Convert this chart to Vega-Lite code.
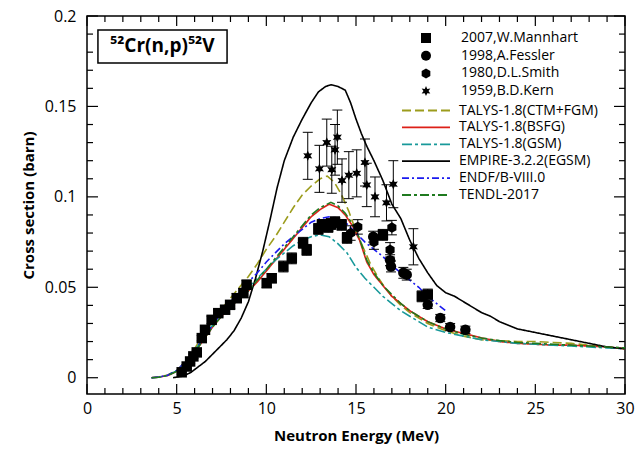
{
"$schema": "https://vega.github.io/schema/vega-lite/v6.json",
"width": 538, "height": 378,
"autosize": {"type": "none"},
"padding": {"left": 87, "top": 16, "right": 19, "bottom": 59},
"background": "white",
"config": {
  "view": {"stroke": "black", "strokeWidth": 1.5},
  "font": "Open Sans",
  "axis": {"domain": false, "ticks": false, "labelFont": "Open Sans", "labelFontSize": 16, "labelColor": "black", "titleFont": "Open Sans", "titleFontSize": 15, "titleFontWeight": "bold", "titleColor": "black", "grid": false, "labelFlush": false, "labelOverlap": false},
  "legend": {"labelFont": "Open Sans", "labelFontSize": 14, "labelColor": "black", "padding": 0}
},
"datasets": {
  "xmaj": [{"v":0},{"v":5},{"v":10},{"v":15},{"v":20},{"v":25},{"v":30}],
  "xmin": [{"v":1},{"v":2},{"v":3},{"v":4},{"v":6},{"v":7},{"v":8},{"v":9},{"v":11},{"v":12},{"v":13},{"v":14},{"v":16},{"v":17},{"v":18},{"v":19},{"v":21},{"v":22},{"v":23},{"v":24},{"v":26},{"v":27},{"v":28},{"v":29}],
  "ymaj": [{"v":0},{"v":0.05},{"v":0.1},{"v":0.15},{"v":0.2}],
  "ymin": [{"v":0.01},{"v":0.02},{"v":0.03},{"v":0.04},{"v":0.06},{"v":0.07},{"v":0.08},{"v":0.09},{"v":0.11},{"v":0.12},{"v":0.13},{"v":0.14},{"v":0.16},{"v":0.17},{"v":0.18},{"v":0.19}],
  "exp": [
    {"src":"2007,W.Mannhart","E":5.28,"y":0.003,"lo":0.002,"hi":0.004},
    {"src":"2007,W.Mannhart","E":5.56,"y":0.0062,"lo":0.0052,"hi":0.0072},
    {"src":"2007,W.Mannhart","E":5.75,"y":0.009,"lo":0.008,"hi":0.010},
    {"src":"2007,W.Mannhart","E":5.93,"y":0.0118,"lo":0.0106,"hi":0.013},
    {"src":"2007,W.Mannhart","E":6.12,"y":0.014,"lo":0.0128,"hi":0.0152},
    {"src":"2007,W.Mannhart","E":6.4,"y":0.0219,"lo":0.0204,"hi":0.0234},
    {"src":"2007,W.Mannhart","E":6.58,"y":0.0265,"lo":0.025,"hi":0.028},
    {"src":"2007,W.Mannhart","E":6.95,"y":0.032,"lo":0.030,"hi":0.034},
    {"src":"2007,W.Mannhart","E":7.32,"y":0.0357,"lo":0.0337,"hi":0.0377},
    {"src":"2007,W.Mannhart","E":7.7,"y":0.0376,"lo":0.0356,"hi":0.0396},
    {"src":"2007,W.Mannhart","E":7.98,"y":0.0403,"lo":0.0383,"hi":0.0423},
    {"src":"2007,W.Mannhart","E":8.35,"y":0.044,"lo":0.0415,"hi":0.0465},
    {"src":"2007,W.Mannhart","E":8.72,"y":0.0468,"lo":0.0443,"hi":0.0493},
    {"src":"2007,W.Mannhart","E":8.9,"y":0.0514,"lo":0.0489,"hi":0.0539},
    {"src":"2007,W.Mannhart","E":10.02,"y":0.0523,"lo":0.0498,"hi":0.0548},
    {"src":"2007,W.Mannhart","E":10.3,"y":0.055,"lo":0.0525,"hi":0.0575},
    {"src":"2007,W.Mannhart","E":10.95,"y":0.0615,"lo":0.0585,"hi":0.0645},
    {"src":"2007,W.Mannhart","E":11.42,"y":0.066,"lo":0.063,"hi":0.069},
    {"src":"2007,W.Mannhart","E":12.05,"y":0.0746,"lo":0.0716,"hi":0.0776},
    {"src":"2007,W.Mannhart","E":12.25,"y":0.0707,"lo":0.0677,"hi":0.0737},
    {"src":"2007,W.Mannhart","E":12.9,"y":0.0823,"lo":0.0793,"hi":0.0853},
    {"src":"2007,W.Mannhart","E":13.1,"y":0.0845,"lo":0.0815,"hi":0.0875},
    {"src":"2007,W.Mannhart","E":13.45,"y":0.0834,"lo":0.0804,"hi":0.0864},
    {"src":"2007,W.Mannhart","E":13.6,"y":0.085,"lo":0.082,"hi":0.088},
    {"src":"2007,W.Mannhart","E":13.83,"y":0.086,"lo":0.083,"hi":0.089},
    {"src":"2007,W.Mannhart","E":14.2,"y":0.0845,"lo":0.0815,"hi":0.0875},
    {"src":"2007,W.Mannhart","E":14.5,"y":0.0773,"lo":0.0743,"hi":0.0803},
    {"src":"2007,W.Mannhart","E":16.5,"y":0.079,"lo":0.076,"hi":0.082},
    {"src":"2007,W.Mannhart","E":18.67,"y":0.045,"lo":0.042,"hi":0.048},
    {"src":"2007,W.Mannhart","E":19.0,"y":0.046,"lo":0.043,"hi":0.049},
    {"src":"1998,A.Fessler","E":15.96,"y":0.078,"lo":0.075,"hi":0.081},
    {"src":"1998,A.Fessler","E":16.9,"y":0.065,"lo":0.062,"hi":0.068},
    {"src":"1998,A.Fessler","E":16.95,"y":0.0615,"lo":0.0585,"hi":0.0645},
    {"src":"1998,A.Fessler","E":17.64,"y":0.058,"lo":0.055,"hi":0.061},
    {"src":"1998,A.Fessler","E":17.83,"y":0.057,"lo":0.054,"hi":0.060},
    {"src":"1998,A.Fessler","E":19.0,"y":0.0403,"lo":0.0383,"hi":0.0423},
    {"src":"1998,A.Fessler","E":19.7,"y":0.033,"lo":0.031,"hi":0.035},
    {"src":"1998,A.Fessler","E":20.25,"y":0.028,"lo":0.026,"hi":0.030},
    {"src":"1998,A.Fessler","E":21.1,"y":0.0265,"lo":0.0245,"hi":0.0285},
    {"src":"1980,D.L.Smith","E":14.7,"y":0.08,"lo":0.076,"hi":0.084},
    {"src":"1980,D.L.Smith","E":15.1,"y":0.0834,"lo":0.0794,"hi":0.0874},
    {"src":"1980,D.L.Smith","E":16.0,"y":0.075,"lo":0.071,"hi":0.079},
    {"src":"1980,D.L.Smith","E":16.9,"y":0.0707,"lo":0.0667,"hi":0.0747},
    {"src":"1980,D.L.Smith","E":17.0,"y":0.083,"lo":0.079,"hi":0.087},
    {"src":"1959,B.D.Kern","E":12.31,"y":0.1227,"lo":0.1097,"hi":0.1357},
    {"src":"1959,B.D.Kern","E":12.96,"y":0.1155,"lo":0.1025,"hi":0.1285},
    {"src":"1959,B.D.Kern","E":13.37,"y":0.13,"lo":0.117,"hi":0.143},
    {"src":"1959,B.D.Kern","E":13.65,"y":0.115,"lo":0.102,"hi":0.128},
    {"src":"1959,B.D.Kern","E":13.83,"y":0.126,"lo":0.112,"hi":0.140},
    {"src":"1959,B.D.Kern","E":13.96,"y":0.133,"lo":0.118,"hi":0.148},
    {"src":"1959,B.D.Kern","E":14.22,"y":0.109,"lo":0.097,"hi":0.121},
    {"src":"1959,B.D.Kern","E":14.6,"y":0.112,"lo":0.099,"hi":0.125},
    {"src":"1959,B.D.Kern","E":15.04,"y":0.113,"lo":0.100,"hi":0.126},
    {"src":"1959,B.D.Kern","E":15.5,"y":0.119,"lo":0.106,"hi":0.132},
    {"src":"1959,B.D.Kern","E":15.6,"y":0.1066,"lo":0.0946,"hi":0.1186},
    {"src":"1959,B.D.Kern","E":16.06,"y":0.1,"lo":0.089,"hi":0.111},
    {"src":"1959,B.D.Kern","E":16.7,"y":0.0967,"lo":0.0867,"hi":0.1067},
    {"src":"1959,B.D.Kern","E":17.08,"y":0.107,"lo":0.094,"hi":0.120},
    {"src":"1959,B.D.Kern","E":18.2,"y":0.0724,"lo":0.0624,"hi":0.0824}
  ],
  "calc": [
    {"model":"TALYS-1.8(CTM+FGM)","E":3.6,"y":0},{"model":"TALYS-1.8(CTM+FGM)","E":4.0,"y":0.0004},{"model":"TALYS-1.8(CTM+FGM)","E":4.5,"y":0.0015},{"model":"TALYS-1.8(CTM+FGM)","E":5.0,"y":0.004},{"model":"TALYS-1.8(CTM+FGM)","E":5.5,"y":0.009},{"model":"TALYS-1.8(CTM+FGM)","E":6.0,"y":0.016},{"model":"TALYS-1.8(CTM+FGM)","E":6.5,"y":0.024},{"model":"TALYS-1.8(CTM+FGM)","E":7.0,"y":0.031},{"model":"TALYS-1.8(CTM+FGM)","E":7.5,"y":0.038},{"model":"TALYS-1.8(CTM+FGM)","E":8.0,"y":0.044},{"model":"TALYS-1.8(CTM+FGM)","E":8.5,"y":0.05},{"model":"TALYS-1.8(CTM+FGM)","E":9.0,"y":0.056},{"model":"TALYS-1.8(CTM+FGM)","E":9.5,"y":0.063},{"model":"TALYS-1.8(CTM+FGM)","E":10.0,"y":0.071},{"model":"TALYS-1.8(CTM+FGM)","E":10.5,"y":0.078},{"model":"TALYS-1.8(CTM+FGM)","E":11.0,"y":0.086},{"model":"TALYS-1.8(CTM+FGM)","E":11.5,"y":0.094},{"model":"TALYS-1.8(CTM+FGM)","E":12.0,"y":0.101},{"model":"TALYS-1.8(CTM+FGM)","E":12.5,"y":0.106},{"model":"TALYS-1.8(CTM+FGM)","E":13.0,"y":0.11},{"model":"TALYS-1.8(CTM+FGM)","E":13.4,"y":0.1115},{"model":"TALYS-1.8(CTM+FGM)","E":13.8,"y":0.108},{"model":"TALYS-1.8(CTM+FGM)","E":14.2,"y":0.101},{"model":"TALYS-1.8(CTM+FGM)","E":14.6,"y":0.092},{"model":"TALYS-1.8(CTM+FGM)","E":15.0,"y":0.081},{"model":"TALYS-1.8(CTM+FGM)","E":15.4,"y":0.072},{"model":"TALYS-1.8(CTM+FGM)","E":15.8,"y":0.063},{"model":"TALYS-1.8(CTM+FGM)","E":16.2,"y":0.056},{"model":"TALYS-1.8(CTM+FGM)","E":16.6,"y":0.05},{"model":"TALYS-1.8(CTM+FGM)","E":17.0,"y":0.045},{"model":"TALYS-1.8(CTM+FGM)","E":17.5,"y":0.04},{"model":"TALYS-1.8(CTM+FGM)","E":18.0,"y":0.036},{"model":"TALYS-1.8(CTM+FGM)","E":18.5,"y":0.033},{"model":"TALYS-1.8(CTM+FGM)","E":19.0,"y":0.03},{"model":"TALYS-1.8(CTM+FGM)","E":19.5,"y":0.028},{"model":"TALYS-1.8(CTM+FGM)","E":20.0,"y":0.026},{"model":"TALYS-1.8(CTM+FGM)","E":21.0,"y":0.023},{"model":"TALYS-1.8(CTM+FGM)","E":22.0,"y":0.021},{"model":"TALYS-1.8(CTM+FGM)","E":23.0,"y":0.0205},{"model":"TALYS-1.8(CTM+FGM)","E":24.0,"y":0.02},{"model":"TALYS-1.8(CTM+FGM)","E":25.0,"y":0.02},{"model":"TALYS-1.8(CTM+FGM)","E":26.0,"y":0.0195},{"model":"TALYS-1.8(CTM+FGM)","E":27.0,"y":0.019},{"model":"TALYS-1.8(CTM+FGM)","E":28.0,"y":0.018},{"model":"TALYS-1.8(CTM+FGM)","E":29.0,"y":0.017},{"model":"TALYS-1.8(CTM+FGM)","E":30.0,"y":0.016},
    {"model":"TALYS-1.8(BSFG)","E":3.6,"y":0},{"model":"TALYS-1.8(BSFG)","E":4.0,"y":0.0003},{"model":"TALYS-1.8(BSFG)","E":4.5,"y":0.0012},{"model":"TALYS-1.8(BSFG)","E":5.0,"y":0.0035},{"model":"TALYS-1.8(BSFG)","E":5.5,"y":0.008},{"model":"TALYS-1.8(BSFG)","E":6.0,"y":0.014},{"model":"TALYS-1.8(BSFG)","E":6.5,"y":0.021},{"model":"TALYS-1.8(BSFG)","E":7.0,"y":0.028},{"model":"TALYS-1.8(BSFG)","E":7.5,"y":0.034},{"model":"TALYS-1.8(BSFG)","E":8.0,"y":0.039},{"model":"TALYS-1.8(BSFG)","E":8.5,"y":0.044},{"model":"TALYS-1.8(BSFG)","E":9.0,"y":0.048},{"model":"TALYS-1.8(BSFG)","E":9.5,"y":0.053},{"model":"TALYS-1.8(BSFG)","E":10.0,"y":0.059},{"model":"TALYS-1.8(BSFG)","E":10.5,"y":0.065},{"model":"TALYS-1.8(BSFG)","E":11.0,"y":0.071},{"model":"TALYS-1.8(BSFG)","E":11.5,"y":0.077},{"model":"TALYS-1.8(BSFG)","E":12.0,"y":0.083},{"model":"TALYS-1.8(BSFG)","E":12.5,"y":0.089},{"model":"TALYS-1.8(BSFG)","E":13.0,"y":0.093},{"model":"TALYS-1.8(BSFG)","E":13.5,"y":0.096},{"model":"TALYS-1.8(BSFG)","E":14.0,"y":0.094},{"model":"TALYS-1.8(BSFG)","E":14.4,"y":0.09},{"model":"TALYS-1.8(BSFG)","E":14.8,"y":0.084},{"model":"TALYS-1.8(BSFG)","E":15.2,"y":0.076},{"model":"TALYS-1.8(BSFG)","E":15.6,"y":0.064},{"model":"TALYS-1.8(BSFG)","E":16.0,"y":0.057},{"model":"TALYS-1.8(BSFG)","E":16.5,"y":0.051},{"model":"TALYS-1.8(BSFG)","E":17.0,"y":0.045},{"model":"TALYS-1.8(BSFG)","E":17.5,"y":0.041},{"model":"TALYS-1.8(BSFG)","E":18.0,"y":0.037},{"model":"TALYS-1.8(BSFG)","E":18.5,"y":0.034},{"model":"TALYS-1.8(BSFG)","E":19.0,"y":0.031},{"model":"TALYS-1.8(BSFG)","E":19.5,"y":0.029},{"model":"TALYS-1.8(BSFG)","E":20.0,"y":0.027},{"model":"TALYS-1.8(BSFG)","E":21.0,"y":0.0245},{"model":"TALYS-1.8(BSFG)","E":22.0,"y":0.022},{"model":"TALYS-1.8(BSFG)","E":23.0,"y":0.02},{"model":"TALYS-1.8(BSFG)","E":24.0,"y":0.019},{"model":"TALYS-1.8(BSFG)","E":25.0,"y":0.0185},{"model":"TALYS-1.8(BSFG)","E":26.0,"y":0.018},{"model":"TALYS-1.8(BSFG)","E":27.0,"y":0.018},{"model":"TALYS-1.8(BSFG)","E":28.0,"y":0.0175},{"model":"TALYS-1.8(BSFG)","E":29.0,"y":0.017},{"model":"TALYS-1.8(BSFG)","E":30.0,"y":0.016},
    {"model":"TALYS-1.8(GSM)","E":3.6,"y":0},{"model":"TALYS-1.8(GSM)","E":4.0,"y":0.0003},{"model":"TALYS-1.8(GSM)","E":4.5,"y":0.0013},{"model":"TALYS-1.8(GSM)","E":5.0,"y":0.0038},{"model":"TALYS-1.8(GSM)","E":5.5,"y":0.0085},{"model":"TALYS-1.8(GSM)","E":6.0,"y":0.015},{"model":"TALYS-1.8(GSM)","E":6.5,"y":0.022},{"model":"TALYS-1.8(GSM)","E":7.0,"y":0.029},{"model":"TALYS-1.8(GSM)","E":7.5,"y":0.035},{"model":"TALYS-1.8(GSM)","E":8.0,"y":0.04},{"model":"TALYS-1.8(GSM)","E":8.5,"y":0.045},{"model":"TALYS-1.8(GSM)","E":9.0,"y":0.05},{"model":"TALYS-1.8(GSM)","E":9.5,"y":0.055},{"model":"TALYS-1.8(GSM)","E":10.0,"y":0.06},{"model":"TALYS-1.8(GSM)","E":10.5,"y":0.065},{"model":"TALYS-1.8(GSM)","E":11.0,"y":0.069},{"model":"TALYS-1.8(GSM)","E":11.5,"y":0.073},{"model":"TALYS-1.8(GSM)","E":12.0,"y":0.076},{"model":"TALYS-1.8(GSM)","E":12.5,"y":0.078},{"model":"TALYS-1.8(GSM)","E":13.0,"y":0.079},{"model":"TALYS-1.8(GSM)","E":13.5,"y":0.078},{"model":"TALYS-1.8(GSM)","E":14.0,"y":0.074},{"model":"TALYS-1.8(GSM)","E":14.5,"y":0.069},{"model":"TALYS-1.8(GSM)","E":15.0,"y":0.061},{"model":"TALYS-1.8(GSM)","E":15.5,"y":0.055},{"model":"TALYS-1.8(GSM)","E":16.0,"y":0.05},{"model":"TALYS-1.8(GSM)","E":16.5,"y":0.045},{"model":"TALYS-1.8(GSM)","E":17.0,"y":0.041},{"model":"TALYS-1.8(GSM)","E":17.5,"y":0.037},{"model":"TALYS-1.8(GSM)","E":18.0,"y":0.034},{"model":"TALYS-1.8(GSM)","E":18.5,"y":0.031},{"model":"TALYS-1.8(GSM)","E":19.0,"y":0.028},{"model":"TALYS-1.8(GSM)","E":20.0,"y":0.025},{"model":"TALYS-1.8(GSM)","E":21.0,"y":0.023},{"model":"TALYS-1.8(GSM)","E":22.0,"y":0.021},{"model":"TALYS-1.8(GSM)","E":23.0,"y":0.02},{"model":"TALYS-1.8(GSM)","E":24.0,"y":0.019},{"model":"TALYS-1.8(GSM)","E":25.0,"y":0.0185},{"model":"TALYS-1.8(GSM)","E":26.0,"y":0.018},{"model":"TALYS-1.8(GSM)","E":27.0,"y":0.0175},{"model":"TALYS-1.8(GSM)","E":28.0,"y":0.017},{"model":"TALYS-1.8(GSM)","E":29.0,"y":0.0165},{"model":"TALYS-1.8(GSM)","E":30.0,"y":0.016},
    {"model":"EMPIRE-3.2.2(EGSM)","E":4.8,"y":0},{"model":"EMPIRE-3.2.2(EGSM)","E":5.4,"y":0.001},{"model":"EMPIRE-3.2.2(EGSM)","E":5.8,"y":0.003},{"model":"EMPIRE-3.2.2(EGSM)","E":6.2,"y":0.006},{"model":"EMPIRE-3.2.2(EGSM)","E":6.6,"y":0.009},{"model":"EMPIRE-3.2.2(EGSM)","E":7.0,"y":0.013},{"model":"EMPIRE-3.2.2(EGSM)","E":7.4,"y":0.017},{"model":"EMPIRE-3.2.2(EGSM)","E":7.8,"y":0.021},{"model":"EMPIRE-3.2.2(EGSM)","E":8.2,"y":0.026},{"model":"EMPIRE-3.2.2(EGSM)","E":8.6,"y":0.033},{"model":"EMPIRE-3.2.2(EGSM)","E":9.0,"y":0.042},{"model":"EMPIRE-3.2.2(EGSM)","E":9.4,"y":0.055},{"model":"EMPIRE-3.2.2(EGSM)","E":9.8,"y":0.07},{"model":"EMPIRE-3.2.2(EGSM)","E":10.2,"y":0.087},{"model":"EMPIRE-3.2.2(EGSM)","E":10.6,"y":0.105},{"model":"EMPIRE-3.2.2(EGSM)","E":11.0,"y":0.12},{"model":"EMPIRE-3.2.2(EGSM)","E":11.5,"y":0.133},{"model":"EMPIRE-3.2.2(EGSM)","E":12.0,"y":0.143},{"model":"EMPIRE-3.2.2(EGSM)","E":12.5,"y":0.152},{"model":"EMPIRE-3.2.2(EGSM)","E":12.9,"y":0.158},{"model":"EMPIRE-3.2.2(EGSM)","E":13.3,"y":0.161},{"model":"EMPIRE-3.2.2(EGSM)","E":13.6,"y":0.162},{"model":"EMPIRE-3.2.2(EGSM)","E":14.0,"y":0.161},{"model":"EMPIRE-3.2.2(EGSM)","E":14.4,"y":0.159},{"model":"EMPIRE-3.2.2(EGSM)","E":14.7,"y":0.152},{"model":"EMPIRE-3.2.2(EGSM)","E":15.0,"y":0.143},{"model":"EMPIRE-3.2.2(EGSM)","E":15.3,"y":0.135},{"model":"EMPIRE-3.2.2(EGSM)","E":15.6,"y":0.128},{"model":"EMPIRE-3.2.2(EGSM)","E":16.0,"y":0.12},{"model":"EMPIRE-3.2.2(EGSM)","E":16.5,"y":0.109},{"model":"EMPIRE-3.2.2(EGSM)","E":17.0,"y":0.096},{"model":"EMPIRE-3.2.2(EGSM)","E":17.5,"y":0.088},{"model":"EMPIRE-3.2.2(EGSM)","E":18.0,"y":0.076},{"model":"EMPIRE-3.2.2(EGSM)","E":18.5,"y":0.066},{"model":"EMPIRE-3.2.2(EGSM)","E":19.0,"y":0.058},{"model":"EMPIRE-3.2.2(EGSM)","E":19.5,"y":0.051},{"model":"EMPIRE-3.2.2(EGSM)","E":20.0,"y":0.047},{"model":"EMPIRE-3.2.2(EGSM)","E":20.5,"y":0.045},{"model":"EMPIRE-3.2.2(EGSM)","E":21.0,"y":0.042},{"model":"EMPIRE-3.2.2(EGSM)","E":21.5,"y":0.039},{"model":"EMPIRE-3.2.2(EGSM)","E":22.0,"y":0.036},{"model":"EMPIRE-3.2.2(EGSM)","E":22.5,"y":0.034},{"model":"EMPIRE-3.2.2(EGSM)","E":23.0,"y":0.031},{"model":"EMPIRE-3.2.2(EGSM)","E":23.5,"y":0.029},{"model":"EMPIRE-3.2.2(EGSM)","E":24.0,"y":0.027},{"model":"EMPIRE-3.2.2(EGSM)","E":25.0,"y":0.025},{"model":"EMPIRE-3.2.2(EGSM)","E":26.0,"y":0.023},{"model":"EMPIRE-3.2.2(EGSM)","E":27.0,"y":0.021},{"model":"EMPIRE-3.2.2(EGSM)","E":28.0,"y":0.019},{"model":"EMPIRE-3.2.2(EGSM)","E":29.0,"y":0.017},{"model":"EMPIRE-3.2.2(EGSM)","E":30.0,"y":0.016},
    {"model":"ENDF/B-VIII.0","E":3.6,"y":0},{"model":"ENDF/B-VIII.0","E":4.0,"y":0.0004},{"model":"ENDF/B-VIII.0","E":4.5,"y":0.0014},{"model":"ENDF/B-VIII.0","E":5.0,"y":0.004},{"model":"ENDF/B-VIII.0","E":5.5,"y":0.009},{"model":"ENDF/B-VIII.0","E":6.0,"y":0.015},{"model":"ENDF/B-VIII.0","E":6.5,"y":0.022},{"model":"ENDF/B-VIII.0","E":7.0,"y":0.029},{"model":"ENDF/B-VIII.0","E":7.5,"y":0.036},{"model":"ENDF/B-VIII.0","E":8.0,"y":0.042},{"model":"ENDF/B-VIII.0","E":8.5,"y":0.047},{"model":"ENDF/B-VIII.0","E":9.0,"y":0.053},{"model":"ENDF/B-VIII.0","E":9.5,"y":0.058},{"model":"ENDF/B-VIII.0","E":10.0,"y":0.064},{"model":"ENDF/B-VIII.0","E":10.5,"y":0.069},{"model":"ENDF/B-VIII.0","E":11.0,"y":0.074},{"model":"ENDF/B-VIII.0","E":11.5,"y":0.078},{"model":"ENDF/B-VIII.0","E":12.0,"y":0.082},{"model":"ENDF/B-VIII.0","E":12.5,"y":0.086},{"model":"ENDF/B-VIII.0","E":13.0,"y":0.088},{"model":"ENDF/B-VIII.0","E":13.5,"y":0.089},{"model":"ENDF/B-VIII.0","E":14.0,"y":0.088},{"model":"ENDF/B-VIII.0","E":14.5,"y":0.085},{"model":"ENDF/B-VIII.0","E":15.0,"y":0.08},{"model":"ENDF/B-VIII.0","E":15.5,"y":0.075},{"model":"ENDF/B-VIII.0","E":16.0,"y":0.071},{"model":"ENDF/B-VIII.0","E":16.5,"y":0.067},{"model":"ENDF/B-VIII.0","E":17.0,"y":0.062},{"model":"ENDF/B-VIII.0","E":17.5,"y":0.058},{"model":"ENDF/B-VIII.0","E":18.0,"y":0.054},{"model":"ENDF/B-VIII.0","E":18.5,"y":0.05},{"model":"ENDF/B-VIII.0","E":19.0,"y":0.045},{"model":"ENDF/B-VIII.0","E":19.5,"y":0.041},{"model":"ENDF/B-VIII.0","E":20.0,"y":0.037},
    {"model":"TENDL-2017","E":3.6,"y":0},{"model":"TENDL-2017","E":4.0,"y":0.0003},{"model":"TENDL-2017","E":4.5,"y":0.0012},{"model":"TENDL-2017","E":5.0,"y":0.0035},{"model":"TENDL-2017","E":5.5,"y":0.008},{"model":"TENDL-2017","E":6.0,"y":0.014},{"model":"TENDL-2017","E":6.5,"y":0.021},{"model":"TENDL-2017","E":7.0,"y":0.028},{"model":"TENDL-2017","E":7.5,"y":0.034},{"model":"TENDL-2017","E":8.0,"y":0.039},{"model":"TENDL-2017","E":8.5,"y":0.044},{"model":"TENDL-2017","E":9.0,"y":0.048},{"model":"TENDL-2017","E":9.5,"y":0.054},{"model":"TENDL-2017","E":10.0,"y":0.06},{"model":"TENDL-2017","E":10.5,"y":0.066},{"model":"TENDL-2017","E":11.0,"y":0.072},{"model":"TENDL-2017","E":11.5,"y":0.078},{"model":"TENDL-2017","E":12.0,"y":0.084},{"model":"TENDL-2017","E":12.5,"y":0.09},{"model":"TENDL-2017","E":13.0,"y":0.094},{"model":"TENDL-2017","E":13.6,"y":0.097},{"model":"TENDL-2017","E":14.0,"y":0.095},{"model":"TENDL-2017","E":14.4,"y":0.091},{"model":"TENDL-2017","E":14.8,"y":0.085},{"model":"TENDL-2017","E":15.2,"y":0.077},{"model":"TENDL-2017","E":15.6,"y":0.065},{"model":"TENDL-2017","E":16.0,"y":0.058},{"model":"TENDL-2017","E":16.5,"y":0.051},{"model":"TENDL-2017","E":17.0,"y":0.046},{"model":"TENDL-2017","E":17.5,"y":0.041},{"model":"TENDL-2017","E":18.0,"y":0.037},{"model":"TENDL-2017","E":18.5,"y":0.034},{"model":"TENDL-2017","E":19.0,"y":0.031},{"model":"TENDL-2017","E":19.5,"y":0.029},{"model":"TENDL-2017","E":20.0,"y":0.027},{"model":"TENDL-2017","E":21.0,"y":0.024},{"model":"TENDL-2017","E":22.0,"y":0.022},{"model":"TENDL-2017","E":23.0,"y":0.0205},{"model":"TENDL-2017","E":24.0,"y":0.0195},{"model":"TENDL-2017","E":25.0,"y":0.019},{"model":"TENDL-2017","E":26.0,"y":0.0185},{"model":"TENDL-2017","E":27.0,"y":0.018},{"model":"TENDL-2017","E":28.0,"y":0.0175},{"model":"TENDL-2017","E":29.0,"y":0.017},{"model":"TENDL-2017","E":30.0,"y":0.0165}
  ]
},
"layer": [
    {"data": {"name": "calc"},
     "mark": {"type": "line", "strokeWidth": 1.6},
     "encoding": {
       "x": {"field": "E", "type": "quantitative", "title": "Neutron Energy (MeV)", "scale": {"domain": [0, 30], "nice": false, "zero": false},
             "axis": {"orient": "bottom", "values": [0,5,10,15,20,25,30], "ticks": false, "domain": false, "labelOverlap": false, "labelPadding": 6, "titlePadding": 12}},
       "y": {"field": "y", "type": "quantitative", "title": "Cross section (barn)", "scale": {"domain": [-0.009, 0.2], "nice": false, "zero": false},
             "axis": {"orient": "left", "values": [0,0.05,0.1,0.15,0.2], "ticks": false, "domain": false, "labelOverlap": false,
                      "labelExpr": "format(datum.value, '~g')", "labelPadding": 11, "titlePadding": 8}},
       "color": {"field": "model", "type": "nominal",
                 "scale": {"domain": ["TALYS-1.8(CTM+FGM)","TALYS-1.8(BSFG)","TALYS-1.8(GSM)","EMPIRE-3.2.2(EGSM)","ENDF/B-VIII.0","TENDL-2017"],
                           "range": ["#9c9c1c","#dd2018","#18999a","#000000","#1a1aee","#1f7a1f"]},
                 "legend": {"orient": "none", "legendX": 330, "legendY": 85.5, "title": null, "symbolType": "M-3,0H3", "symbolSize": 256, "symbolStrokeWidth": 1.8, "labelOffset": 24, "rowPadding": 0.9}},
       "strokeDash": {"field": "model", "type": "nominal",
                 "scale": {"domain": ["TALYS-1.8(CTM+FGM)","TALYS-1.8(BSFG)","TALYS-1.8(GSM)","EMPIRE-3.2.2(EGSM)","ENDF/B-VIII.0","TENDL-2017"],
                           "range": [[9,4],[1,0],[10,3,3,3],[1,0],[7,3,2,3],[9,3,3,3]]},
                 "legend": {"orient": "none", "legendX": 330, "legendY": 85.5, "title": null, "symbolType": "M-3,0H3", "symbolSize": 256, "symbolStrokeWidth": 1.8, "labelOffset": 24, "rowPadding": 0.9}}
     }},
    {"data": {"name": "xmaj"},
     "mark": {"type": "rule", "color": "black", "strokeWidth": 1.2},
     "encoding": {
       "x": {"field": "v", "type": "quantitative", "axis": null, "scale": {"domain": [0, 30], "nice": false, "zero": false}},
       "y": {"datum": -0.009, "type": "quantitative", "axis": null, "scale": {"domain": [-0.009, 0.2], "nice": false, "zero": false}},
       "y2": {"datum": -0.00347}
     }},
    {"data": {"name": "xmin"},
     "mark": {"type": "rule", "color": "black", "strokeWidth": 1.2},
     "encoding": {
       "x": {"field": "v", "type": "quantitative", "axis": null, "scale": {"domain": [0, 30], "nice": false, "zero": false}},
       "y": {"datum": -0.009, "type": "quantitative", "axis": null, "scale": {"domain": [-0.009, 0.2], "nice": false, "zero": false}},
       "y2": {"datum": -0.00568}
     }},
    {"data": {"name": "xmaj"},
     "mark": {"type": "rule", "color": "black", "strokeWidth": 1.2},
     "encoding": {
       "x": {"field": "v", "type": "quantitative", "axis": null, "scale": {"domain": [0, 30], "nice": false, "zero": false}},
       "y": {"datum": 0.2, "type": "quantitative", "axis": null, "scale": {"domain": [-0.009, 0.2], "nice": false, "zero": false}},
       "y2": {"datum": 0.19447}
     }},
    {"data": {"name": "xmin"},
     "mark": {"type": "rule", "color": "black", "strokeWidth": 1.2},
     "encoding": {
       "x": {"field": "v", "type": "quantitative", "axis": null, "scale": {"domain": [0, 30], "nice": false, "zero": false}},
       "y": {"datum": 0.2, "type": "quantitative", "axis": null, "scale": {"domain": [-0.009, 0.2], "nice": false, "zero": false}},
       "y2": {"datum": 0.19668}
     }},
    {"data": {"name": "ymaj"},
     "mark": {"type": "rule", "color": "black", "strokeWidth": 1.2},
     "encoding": {
       "y": {"field": "v", "type": "quantitative", "axis": null, "scale": {"domain": [-0.009, 0.2], "nice": false, "zero": false}},
       "x": {"datum": 0, "type": "quantitative", "axis": null, "scale": {"domain": [0, 30], "nice": false, "zero": false}},
       "x2": {"datum": 0.613}
     }},
    {"data": {"name": "ymin"},
     "mark": {"type": "rule", "color": "black", "strokeWidth": 1.2},
     "encoding": {
       "y": {"field": "v", "type": "quantitative", "axis": null, "scale": {"domain": [-0.009, 0.2], "nice": false, "zero": false}},
       "x": {"datum": 0, "type": "quantitative", "axis": null, "scale": {"domain": [0, 30], "nice": false, "zero": false}},
       "x2": {"datum": 0.335}
     }},
    {"data": {"name": "ymaj"},
     "mark": {"type": "rule", "color": "black", "strokeWidth": 1.2},
     "encoding": {
       "y": {"field": "v", "type": "quantitative", "axis": null, "scale": {"domain": [-0.009, 0.2], "nice": false, "zero": false}},
       "x": {"datum": 30, "type": "quantitative", "axis": null, "scale": {"domain": [0, 30], "nice": false, "zero": false}},
       "x2": {"datum": 29.387}
     }},
    {"data": {"name": "ymin"},
     "mark": {"type": "rule", "color": "black", "strokeWidth": 1.2},
     "encoding": {
       "y": {"field": "v", "type": "quantitative", "axis": null, "scale": {"domain": [-0.009, 0.2], "nice": false, "zero": false}},
       "x": {"datum": 30, "type": "quantitative", "axis": null, "scale": {"domain": [0, 30], "nice": false, "zero": false}},
       "x2": {"datum": 29.665}
     }},
    {"data": {"name": "exp"},
     "mark": {"type": "rule", "color": "black", "strokeWidth": 1},
     "encoding": {
       "x": {"field": "E", "type": "quantitative", "axis": null, "scale": {"domain": [0, 30], "nice": false, "zero": false}},
       "y": {"field": "lo", "type": "quantitative", "axis": null, "scale": {"domain": [-0.009, 0.2], "nice": false, "zero": false}},
       "y2": {"field": "hi"}
     }},
    {"data": {"name": "exp"},
     "mark": {"type": "tick", "orient": "horizontal", "color": "black", "size": 10, "thickness": 1, "opacity": 1},
     "encoding": {
       "x": {"field": "E", "type": "quantitative", "axis": null, "scale": {"domain": [0, 30], "nice": false, "zero": false}},
       "y": {"field": "lo", "type": "quantitative", "axis": null, "scale": {"domain": [-0.009, 0.2], "nice": false, "zero": false}}
     }},
    {"data": {"name": "exp"},
     "mark": {"type": "tick", "orient": "horizontal", "color": "black", "size": 10, "thickness": 1, "opacity": 1},
     "encoding": {
       "x": {"field": "E", "type": "quantitative", "axis": null, "scale": {"domain": [0, 30], "nice": false, "zero": false}},
       "y": {"field": "hi", "type": "quantitative", "axis": null, "scale": {"domain": [-0.009, 0.2], "nice": false, "zero": false}}
     }},
    {"data": {"name": "exp"},
     "mark": {"type": "point", "filled": true, "color": "black", "opacity": 1, "size": 110, "strokeWidth": 0},
     "encoding": {
       "x": {"field": "E", "type": "quantitative", "axis": null, "scale": {"domain": [0, 30], "nice": false, "zero": false}},
       "y": {"field": "y", "type": "quantitative", "axis": null, "scale": {"domain": [-0.009, 0.2], "nice": false, "zero": false}},
       "shape": {"field": "src", "type": "nominal",
                 "scale": {"domain": ["2007,W.Mannhart","1998,A.Fessler","1980,D.L.Smith","1959,B.D.Kern"],
                           "range": ["square","circle","M0,-1L0.866,-0.5L0.866,0.5L0,1L-0.866,0.5L-0.866,-0.5Z","M0,-1L0.25,-0.433L0.866,-0.5L0.5,0L0.866,0.5L0.25,0.433L0,1L-0.25,0.433L-0.866,0.5L-0.5,0L-0.866,-0.5L-0.25,-0.433Z"]},
                 "legend": {"orient": "none", "legendX": 332, "legendY": 15, "title": null, "symbolSize": 100, "symbolFillColor": "black", "symbolStrokeWidth": 0, "labelOffset": 28, "rowPadding": 3.7}}
     }},
    {"data": {"values": [{}]},
     "mark": {"type": "rect", "fill": "white", "stroke": "black", "strokeWidth": 1.5},
     "encoding": {
       "x": {"datum": 0.61, "type": "quantitative", "axis": null, "scale": {"domain": [0, 30], "nice": false, "zero": false}},
       "x2": {"datum": 7.81},
       "y": {"datum": 0.1923, "type": "quantitative", "axis": null, "scale": {"domain": [-0.009, 0.2], "nice": false, "zero": false}},
       "y2": {"datum": 0.174}
     }},
    {"data": {"values": [{}]},
     "mark": {"type": "text", "font": "Open Sans, DejaVu Sans", "fontWeight": "bold", "fontSize": 19, "align": "center", "baseline": "middle", "color": "black"},
     "encoding": {
       "x": {"datum": 4.2, "type": "quantitative", "axis": null, "scale": {"domain": [0, 30], "nice": false, "zero": false}},
       "y": {"datum": 0.1832, "type": "quantitative", "axis": null, "scale": {"domain": [-0.009, 0.2], "nice": false, "zero": false}},
       "text": {"value": "⁵²Cr(n,p)⁵²V"}
     }}
],
"resolve": {"axis": {"x": "independent", "y": "independent"}}
}
